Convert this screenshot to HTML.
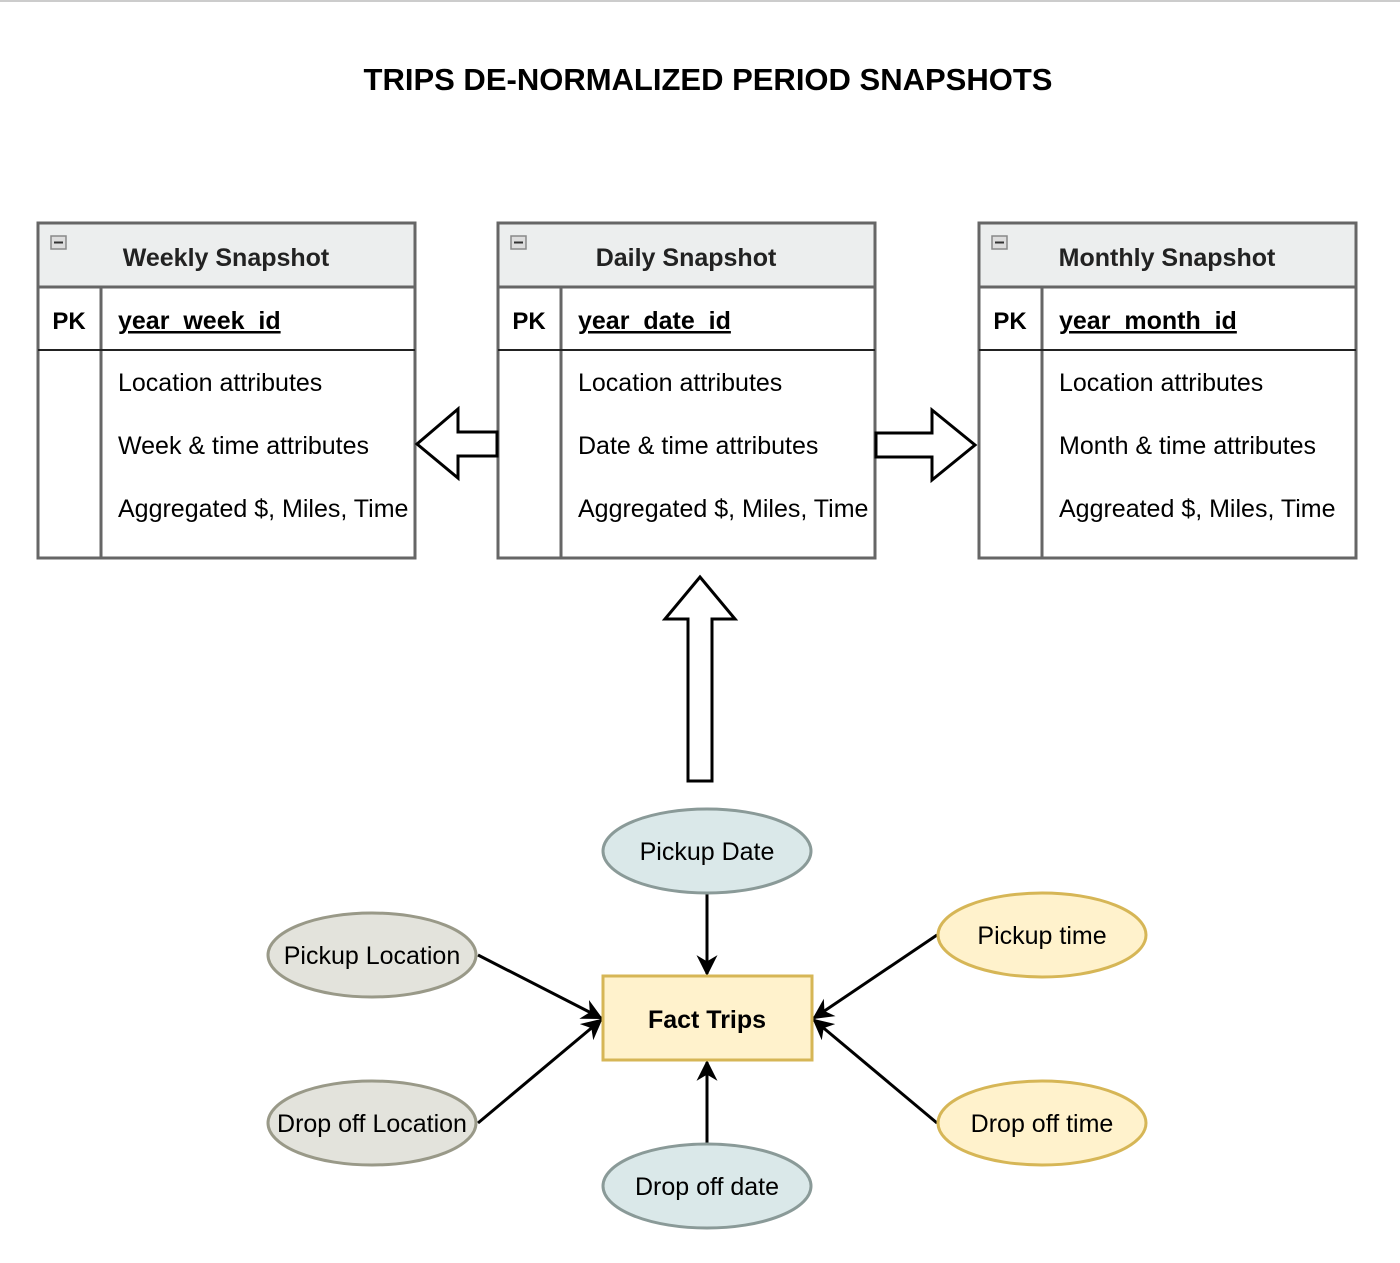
<!DOCTYPE html>
<html><head><meta charset="utf-8"><style>
html,body{margin:0;padding:0;background:#fff;}
svg{display:block;font-family:"Liberation Sans",Arial,sans-serif;}
</style></head><body>
<svg width="1400" height="1263" viewBox="0 0 1400 1263" xmlns="http://www.w3.org/2000/svg">
<defs>
<marker id="ah" viewBox="0 0 10 10" refX="9" refY="5" markerWidth="7" markerHeight="7" orient="auto" markerUnits="strokeWidth">
<path d="M0,0 L10,5 L0,10 L3,5 z" fill="#000"/>
</marker>
<g id="tbl">
<rect x="0" y="0" width="377" height="335" fill="#fff" stroke="#666" stroke-width="3"/>
<rect x="0" y="0" width="377" height="64" fill="#eceeee" stroke="#666" stroke-width="3"/>
<line x1="63" y1="64" x2="63" y2="335" stroke="#666" stroke-width="3"/>
<line x1="0" y1="127" x2="377" y2="127" stroke="#222" stroke-width="2"/>
<rect x="13" y="13" width="15" height="13" fill="#ddd" stroke="#888" stroke-width="1.5"/>
<line x1="16" y1="19.5" x2="25" y2="19.5" stroke="#333" stroke-width="2"/>
<text x="31" y="106" font-size="24" font-weight="bold" text-anchor="middle">PK</text>
</g>
</defs>
<line x1="0" y1="1" x2="1400" y2="1" stroke="#ccc" stroke-width="2"/>
<text x="708" y="90" font-size="31" font-weight="bold" text-anchor="middle">TRIPS DE-NORMALIZED PERIOD SNAPSHOTS</text>

<g transform="translate(38,223)"><use href="#tbl"/>
<text x="188" y="43" font-size="25" font-weight="bold" text-anchor="middle" fill="#222">Weekly Snapshot</text>
<text x="80" y="106" font-size="25" font-weight="bold" text-decoration="underline">year_week_id</text>
<text x="80" y="168" font-size="25">Location attributes</text>
<text x="80" y="231" font-size="25">Week &amp; time attributes</text>
<text x="80" y="294" font-size="25">Aggregated $, Miles, Time</text>
</g>
<g transform="translate(498,223)"><use href="#tbl"/>
<text x="188" y="43" font-size="25" font-weight="bold" text-anchor="middle" fill="#222">Daily Snapshot</text>
<text x="80" y="106" font-size="25" font-weight="bold" text-decoration="underline">year_date_id</text>
<text x="80" y="168" font-size="25">Location attributes</text>
<text x="80" y="231" font-size="25">Date &amp; time attributes</text>
<text x="80" y="294" font-size="25">Aggregated $, Miles, Time</text>
</g>
<g transform="translate(979,223)"><use href="#tbl"/>
<text x="188" y="43" font-size="25" font-weight="bold" text-anchor="middle" fill="#222">Monthly Snapshot</text>
<text x="80" y="106" font-size="25" font-weight="bold" text-decoration="underline">year_month_id</text>
<text x="80" y="168" font-size="25">Location attributes</text>
<text x="80" y="231" font-size="25">Month &amp; time attributes</text>
<text x="80" y="294" font-size="25">Aggreated $, Miles, Time</text>
</g>

<path d="M417,444 L458,409 L458,432 L497,432 L497,456 L458,456 L458,478 Z" fill="#fff" stroke="#000" stroke-width="3" stroke-linejoin="miter"/>
<path d="M876,433 L932,433 L932,410 L975,445 L932,480 L932,457 L876,457 Z" fill="#fff" stroke="#000" stroke-width="3"/>
<path d="M700,577 L735,619 L712,619 L712,781 L688,781 L688,619 L665,619 Z" fill="#fff" stroke="#000" stroke-width="3"/>

<g stroke="#000" stroke-width="3" fill="none" marker-end="url(#ah)">
<line x1="707" y1="893" x2="707" y2="974"/>
<line x1="707" y1="1144" x2="707" y2="1062"/>
<line x1="478" y1="955" x2="601" y2="1018"/>
<line x1="478" y1="1123" x2="601" y2="1020"/>
<line x1="937" y1="935" x2="814" y2="1018"/>
<line x1="937" y1="1123" x2="814" y2="1020"/>
</g>

<rect x="603" y="976" width="209" height="84" fill="#fff2cc" stroke="#d6b656" stroke-width="3"/>
<text x="707" y="1028" font-size="25" font-weight="bold" text-anchor="middle">Fact Trips</text>

<g font-size="25" text-anchor="middle">
<ellipse cx="707" cy="851" rx="104" ry="42" fill="#dae8e9" stroke="#8a9a98" stroke-width="3"/>
<text x="707" y="860">Pickup Date</text>
<ellipse cx="707" cy="1186" rx="104" ry="42" fill="#dae8e9" stroke="#8a9a98" stroke-width="3"/>
<text x="707" y="1195">Drop off date</text>
<ellipse cx="372" cy="955" rx="104" ry="42" fill="#e3e3dc" stroke="#999988" stroke-width="3"/>
<text x="372" y="964">Pickup Location</text>
<ellipse cx="372" cy="1123" rx="104" ry="42" fill="#e3e3dc" stroke="#999988" stroke-width="3"/>
<text x="372" y="1132">Drop off Location</text>
<ellipse cx="1042" cy="935" rx="104" ry="42" fill="#fff2cc" stroke="#d6b656" stroke-width="3"/>
<text x="1042" y="944">Pickup time</text>
<ellipse cx="1042" cy="1123" rx="104" ry="42" fill="#fff2cc" stroke="#d6b656" stroke-width="3"/>
<text x="1042" y="1132">Drop off time</text>
</g>
</svg>
</body></html>
